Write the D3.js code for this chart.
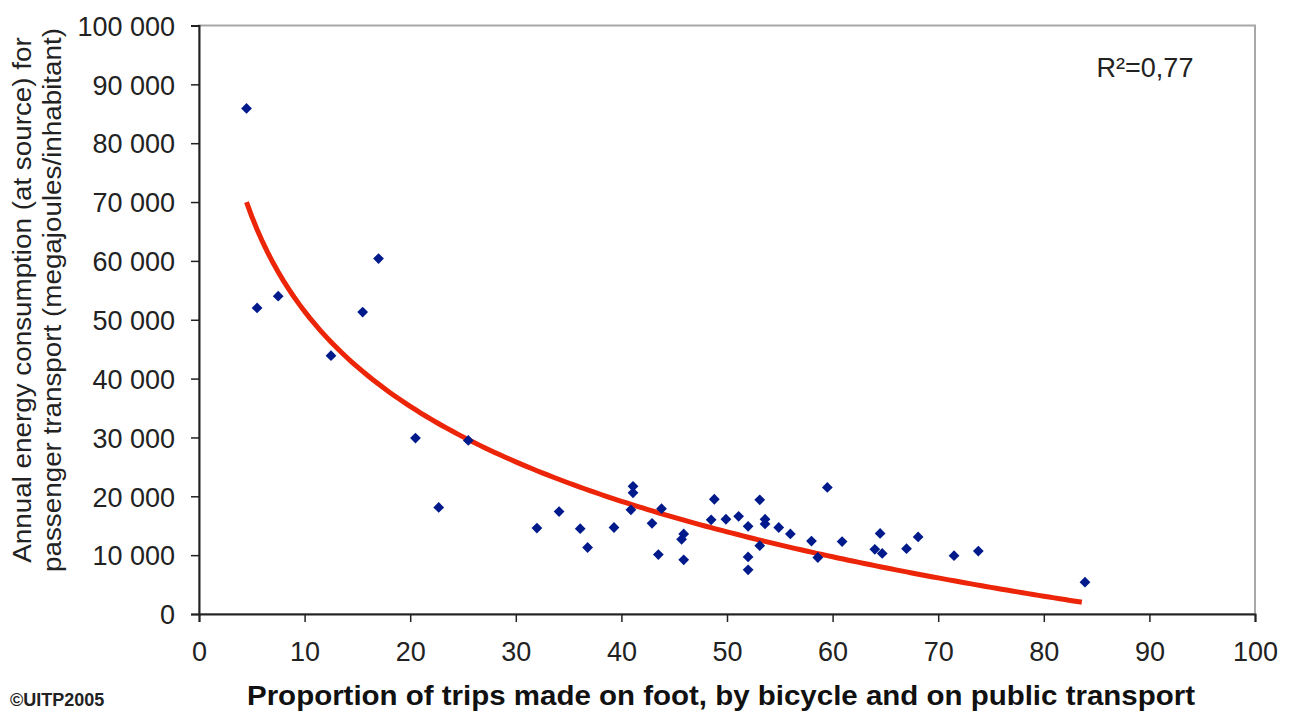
<!DOCTYPE html>
<html>
<head>
<meta charset="utf-8">
<script src="https://cdn.jsdelivr.net/npm/d3@7"></script>
<style>
  body { margin: 0; background: #fff; }
  text { font-family: "Liberation Sans", Arial, sans-serif; }
</style>
</head>
<body>
<div id="chart"></div>
<script>
// share of trips on foot / bicycle / public transport (%)
const tripShare = [4.5, 5.5, 7.5, 12.5, 15.5, 17.0, 20.5, 22.7, 25.5,
  32.0, 34.1, 36.1, 36.8, 39.3, 41.1, 41.1, 40.9, 42.9, 43.8, 43.5,
  45.9, 45.7, 45.9, 48.8, 48.5, 49.9, 51.1, 52.0, 52.0, 52.0,
  53.1, 53.1, 53.6, 53.6, 54.9, 56.0, 58.0, 58.6, 59.5, 60.9,
  64.5, 64.0, 64.7, 67.0, 68.1, 71.5, 73.8, 83.9];
// annual energy consumption, MJ per inhabitant
const energyUse = [85900, 52000, 54000, 43900, 51300, 60400, 29900, 18100, 29500,
  14600, 17400, 14500, 11300, 14700, 21700, 20600, 17700, 15400, 17900, 10100,
  13600, 12700, 9200, 19500, 16000, 16100, 16600, 14900, 9700, 7500,
  19400, 11600, 16100, 15300, 14700, 13600, 12400, 9600, 21500, 12300,
  13700, 11000, 10300, 11100, 13100, 9900, 10700, 5400];

// logarithmic trend line end points
const trendStart = [4.5, 70000];
const trendEnd = [83.6, 2000];

const xTicks = d3.range(0, 101, 10);
const yTicks = d3.range(0, 100001, 10000);
const r2Label = "R²=0,77";

const svgWidth = 1289;
const svgHeight = 715;
const margin = { t: 25.5, r: 34, b: 101, l: 199 };
const width = svgWidth - margin.l - margin.r;
const height = svgHeight - margin.t - margin.b;

const svg = d3.select("#chart").append("svg")
  .attr("width", svgWidth)
  .attr("height", svgHeight);

const g = svg.append("g")
  .attr("transform", `translate(${margin.l},${margin.t})`);

const x = d3.scaleLinear().domain([0, 100]).range([0, width]);
const y = d3.scaleLinear().domain([0, 100000]).range([height, 0]);

// plot frame (grey top / right)
g.append("rect")
  .attr("x", 0).attr("y", 0)
  .attr("width", width).attr("height", height)
  .attr("fill", "none")
  .attr("stroke", "#a8a8a8")
  .attr("stroke-width", 2);

const fmt = d => d3.format(",")(d).replace(/,/g, " ");

const xAxis = g.append("g")
  .attr("transform", `translate(0,${height})`)
  .call(d3.axisBottom(x).tickValues(xTicks).tickSize(8).tickPadding(17));
const yAxis = g.append("g")
  .call(d3.axisLeft(y).tickValues(yTicks).tickSize(8).tickPadding(16).tickFormat(fmt));

[xAxis, yAxis].forEach(a => {
  a.select(".domain").attr("stroke", "#222").attr("stroke-width", 2);
  a.selectAll(".tick line").attr("stroke", "#222").attr("stroke-width", 1.5);
  a.selectAll(".tick text")
    .attr("fill", "#222")
    .style("font-family", "'Liberation Sans', Arial, sans-serif")
    .style("font-size", "27px");
});
yAxis.selectAll(".tick text").attr("dy", "0.36em");
xAxis.selectAll(".tick text").attr("dy", "0.8em");

// trend: y = a + b ln(x) through the two read end points
const b = (trendEnd[1] - trendStart[1]) / (Math.log(trendEnd[0]) - Math.log(trendStart[0]));
const a = trendStart[1] - b * Math.log(trendStart[0]);
const trendX = d3.range(trendStart[0], trendEnd[0], 0.5).concat([trendEnd[0]]);

g.append("path")
  .datum(trendX)
  .attr("fill", "none")
  .attr("stroke", "#ec2508")
  .attr("stroke-width", 5)
  .attr("d", d3.line().x(d => x(d)).y(d => y(a + b * Math.log(d))));

const pts = tripShare.map((v, i) => ({ x: v, y: energyUse[i] }));
g.append("g").selectAll("path")
  .data(pts)
  .enter()
  .append("path")
  .attr("d", d3.symbol(d3.symbolSquare, 58))
  .attr("transform", d => `translate(${x(d.x)},${y(d.y)}) rotate(45)`)
  .attr("fill", "#001a8c");

g.append("text")
  .attr("x", x(85))
  .attr("y", y(91200))
  .attr("fill", "#222")
  .style("font-size", "27px")
  .text(r2Label);

// axis titles
svg.append("text")
  .attr("text-anchor", "middle")
  .attr("x", 721)
  .attr("y", 705)
  .attr("fill", "#111")
  .attr("textLength", 948)
  .attr("lengthAdjust", "spacingAndGlyphs")
  .style("font-size", "27px")
  .style("font-weight", "bold")
  .text("Proportion of trips made on foot, by bicycle and on public transport");

const yTitle = svg.append("text")
  .attr("text-anchor", "middle")
  .attr("transform", "translate(0,300) rotate(-90) scale(1.07,1)")
  .attr("fill", "#222")
  .style("font-size", "26px");
yTitle.append("tspan").attr("x", 0).attr("y", 31)
  .text("Annual energy consumption (at source) for");
yTitle.append("tspan").attr("x", 0).attr("y", 61)
  .text("passenger transport (megajoules/inhabitant)");

svg.append("text")
  .attr("x", 10)
  .attr("y", 706)
  .attr("fill", "#222")
  .style("font-size", "18px")
  .style("font-weight", "bold")
  .text("©UITP2005");
</script>
</body>
</html>
